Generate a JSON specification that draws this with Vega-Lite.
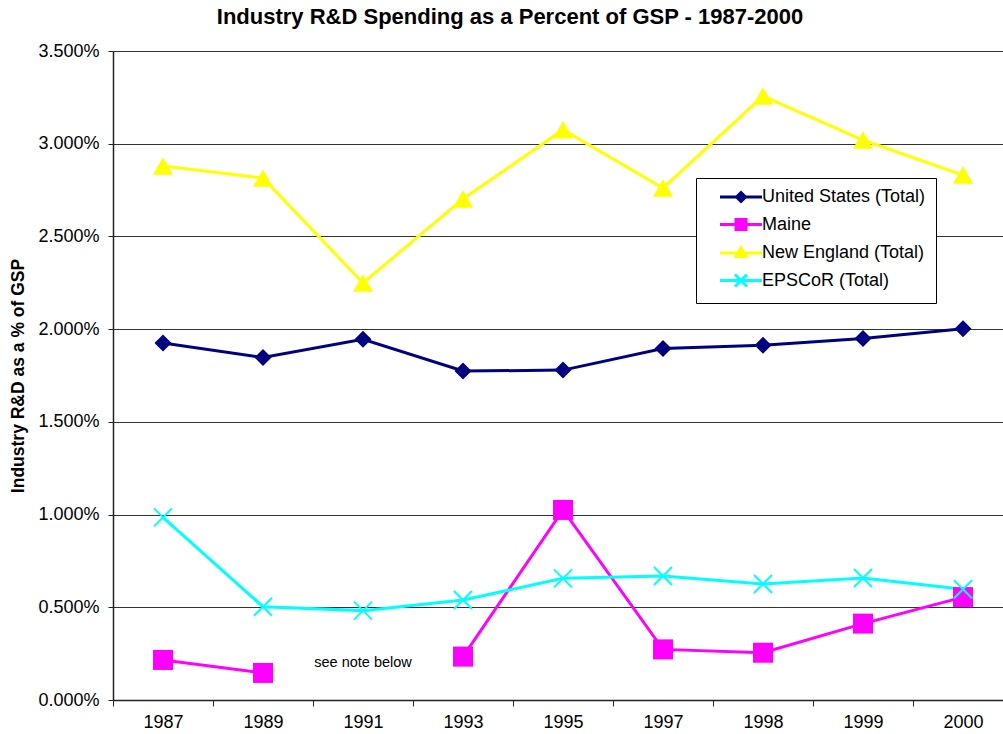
{
  "$schema": "https://vega.github.io/schema/vega-lite/v6.json",
  "autosize": {"type": "none"},
  "width": 890,
  "height": 649,
  "padding": {"left": 113, "top": 51, "right": 0, "bottom": 34},
  "background": "white",
  "config": {"view": {"stroke": null}, "font": "Liberation Sans"},
  "title": {
    "text": "Industry R&D Spending as a Percent of GSP - 1987-2000",
    "fontSize": 22,
    "fontWeight": "bold",
    "font": "Liberation Sans",
    "color": "black",
    "anchor": "middle",
    "frame": "group",
    "dx": -48,
    "offset": 13
  },
  "datasets": {
    "series": [
      {"year": "1987", "series": "United States (Total)", "pct": 0.01925},
      {"year": "1989", "series": "United States (Total)", "pct": 0.01847},
      {"year": "1991", "series": "United States (Total)", "pct": 0.01945},
      {"year": "1993", "series": "United States (Total)", "pct": 0.01774},
      {"year": "1995", "series": "United States (Total)", "pct": 0.01779},
      {"year": "1997", "series": "United States (Total)", "pct": 0.01895},
      {"year": "1998", "series": "United States (Total)", "pct": 0.01913},
      {"year": "1999", "series": "United States (Total)", "pct": 0.0195},
      {"year": "2000", "series": "United States (Total)", "pct": 0.02002},
      {"year": "1987", "series": "Maine", "pct": 0.00216},
      {"year": "1989", "series": "Maine", "pct": 0.00146},
      {"year": "1991", "series": "Maine", "pct": null},
      {"year": "1993", "series": "Maine", "pct": 0.00234},
      {"year": "1995", "series": "Maine", "pct": 0.01025},
      {"year": "1997", "series": "Maine", "pct": 0.00273},
      {"year": "1998", "series": "Maine", "pct": 0.00255},
      {"year": "1999", "series": "Maine", "pct": 0.00412},
      {"year": "2000", "series": "Maine", "pct": 0.00555},
      {"year": "1987", "series": "New England (Total)", "pct": 0.0288},
      {"year": "1989", "series": "New England (Total)", "pct": 0.02815},
      {"year": "1991", "series": "New England (Total)", "pct": 0.02249},
      {"year": "1993", "series": "New England (Total)", "pct": 0.02702},
      {"year": "1995", "series": "New England (Total)", "pct": 0.03075},
      {"year": "1997", "series": "New England (Total)", "pct": 0.02761},
      {"year": "1998", "series": "New England (Total)", "pct": 0.03257},
      {"year": "1999", "series": "New England (Total)", "pct": 0.0302},
      {"year": "2000", "series": "New England (Total)", "pct": 0.02831},
      {"year": "1987", "series": "EPSCoR (Total)", "pct": 0.00985},
      {"year": "1989", "series": "EPSCoR (Total)", "pct": 0.00503},
      {"year": "1991", "series": "EPSCoR (Total)", "pct": 0.00482},
      {"year": "1993", "series": "EPSCoR (Total)", "pct": 0.00539},
      {"year": "1995", "series": "EPSCoR (Total)", "pct": 0.00656},
      {"year": "1997", "series": "EPSCoR (Total)", "pct": 0.00669},
      {"year": "1998", "series": "EPSCoR (Total)", "pct": 0.00626},
      {"year": "1999", "series": "EPSCoR (Total)", "pct": 0.00658},
      {"year": "2000", "series": "EPSCoR (Total)", "pct": 0.00597}
    ],
    "notes": [
      {"year": "1991", "pct": 0.002, "note": "see note below"}
    ]
  },
  "encoding": {
    "x": {
      "field": "year",
      "type": "ordinal",
      "scale": {
        "type": "band",
        "domain": ["1987", "1989", "1991", "1993", "1995", "1997", "1998", "1999", "2000"],
        "range": [0, 900],
        "paddingInner": 0,
        "paddingOuter": 0
      },
      "axis": {
        "title": null,
        "tickBand": "extent",
        "labelAngle": 0,
        "labelFont": "Liberation Sans",
        "labelFontSize": 18,
        "labelColor": "black",
        "tickColor": "#222222",
        "domainColor": "#222222",
        "domainWidth": 1.5,
        "tickSize": 6,
        "labelPadding": 7,
        "grid": false
      }
    },
    "y": {
      "field": "pct",
      "type": "quantitative",
      "scale": {"domain": [0, 0.035], "nice": false, "zero": true},
      "axis": {
        "title": "Industry R&D as a % of GSP",
        "format": ".3%",
        "values": [0, 0.005, 0.01, 0.015, 0.02, 0.025, 0.03, 0.035],
        "grid": true,
        "gridColor": "#333333",
        "gridWidth": 1,
        "gridOpacity": 1,
        "tickSize": 5,
        "tickColor": "#222222",
        "domainColor": "#222222",
        "domainWidth": 1.5,
        "labelPadding": 9,
        "labelFont": "Liberation Sans",
        "labelFontSize": 18,
        "labelColor": "black",
        "titleFont": "Liberation Sans",
        "titleFontSize": 17.5,
        "titleFontWeight": "bold",
        "titleColor": "black",
        "titleX": -95,
        "titleY": 324.5,
        "titleAngle": -90,
        "titleAlign": "center",
        "titleBaseline": "middle"
      }
    }
  },
  "layer": [
    {
      "data": {"name": "series"},
      "mark": {"type": "line", "strokeWidth": 3, "invalid": "break-paths-show-domains"},
      "encoding": {
        "color": {
          "field": "series",
          "type": "nominal",
          "scale": {
            "domain": ["United States (Total)", "Maine", "New England (Total)", "EPSCoR (Total)"],
            "range": ["#000080", "#FF00FF", "#FFFF00", "#00FFFF"]
          },
          "legend": {
            "title": null,
            "orient": "none",
            "legendX": 583,
            "legendY": 127,
            "padding": 10,
            "strokeColor": "black",
            "fillColor": "white",
            "labelFont": "Liberation Sans",
            "labelFontSize": 18,
            "labelColor": "black",
            "labelLimit": 400,
            "symbolSize": 196,
            "labelOffset": 38,
            "rowPadding": 5.5,
            "encode": {
              "symbols": {
                "update": {
                  "shape": {"signal": "datum.value === 'United States (Total)' ? 'M0.714,0H6.714M3.714,-0.64L4.354,0L3.714,0.64L3.074,0Z' : datum.value === 'Maine' ? 'M0.714,0H6.714M3,-0.71H4.43V0.71H3Z' : datum.value === 'New England (Total)' ? 'M0.714,0H6.714M3.714,-0.75L4.43,0.5L3,0.5Z' : 'M0.714,0H6.714M2.857,-0.857L4.571,0.857M2.857,0.857L4.571,-0.857'"},
                  "fill": {"signal": "scale('color', datum.value)"},
                  "stroke": {"signal": "scale('color', datum.value)"},
                  "strokeWidth": {"value": 3},
                  "opacity": {"value": 1},
                  "fillOpacity": {"value": 1},
                  "strokeOpacity": {"value": 1}
                }
              }
            }
          }
        }
      }
    },
    {
      "data": {"name": "series"},
      "transform": [{"filter": "datum.series !== 'EPSCoR (Total)' && isValid(datum.pct)"}],
      "mark": {"type": "point", "filled": true, "size": 400, "opacity": 1},
      "encoding": {
        "color": {"field": "series", "type": "nominal", "legend": null},
        "shape": {
          "field": "series",
          "type": "nominal",
          "scale": {
            "domain": ["United States (Total)", "Maine", "New England (Total)"],
            "range": ["M0,-0.85L0.85,0L0,0.85L-0.85,0Z", "M-1,-1H1V1H-1Z", "M0,-0.87L1,0.87L-1,0.87Z"]
          },
          "legend": null
        }
      }
    },
    {
      "data": {"name": "series"},
      "transform": [{"filter": "datum.series === 'EPSCoR (Total)'"}],
      "mark": {"type": "point", "filled": false, "size": 400, "strokeWidth": 2, "opacity": 1, "shape": "M-0.9,-0.9L0.9,0.9M-0.9,0.9L0.9,-0.9"},
      "encoding": {
        "color": {"field": "series", "type": "nominal", "legend": null}
      }
    },
    {
      "data": {"name": "notes"},
      "mark": {"type": "text", "font": "Liberation Sans", "fontSize": 14.5, "color": "black", "align": "center", "baseline": "middle"},
      "encoding": {
        "text": {"field": "note", "type": "nominal"}
      }
    }
  ]
}
